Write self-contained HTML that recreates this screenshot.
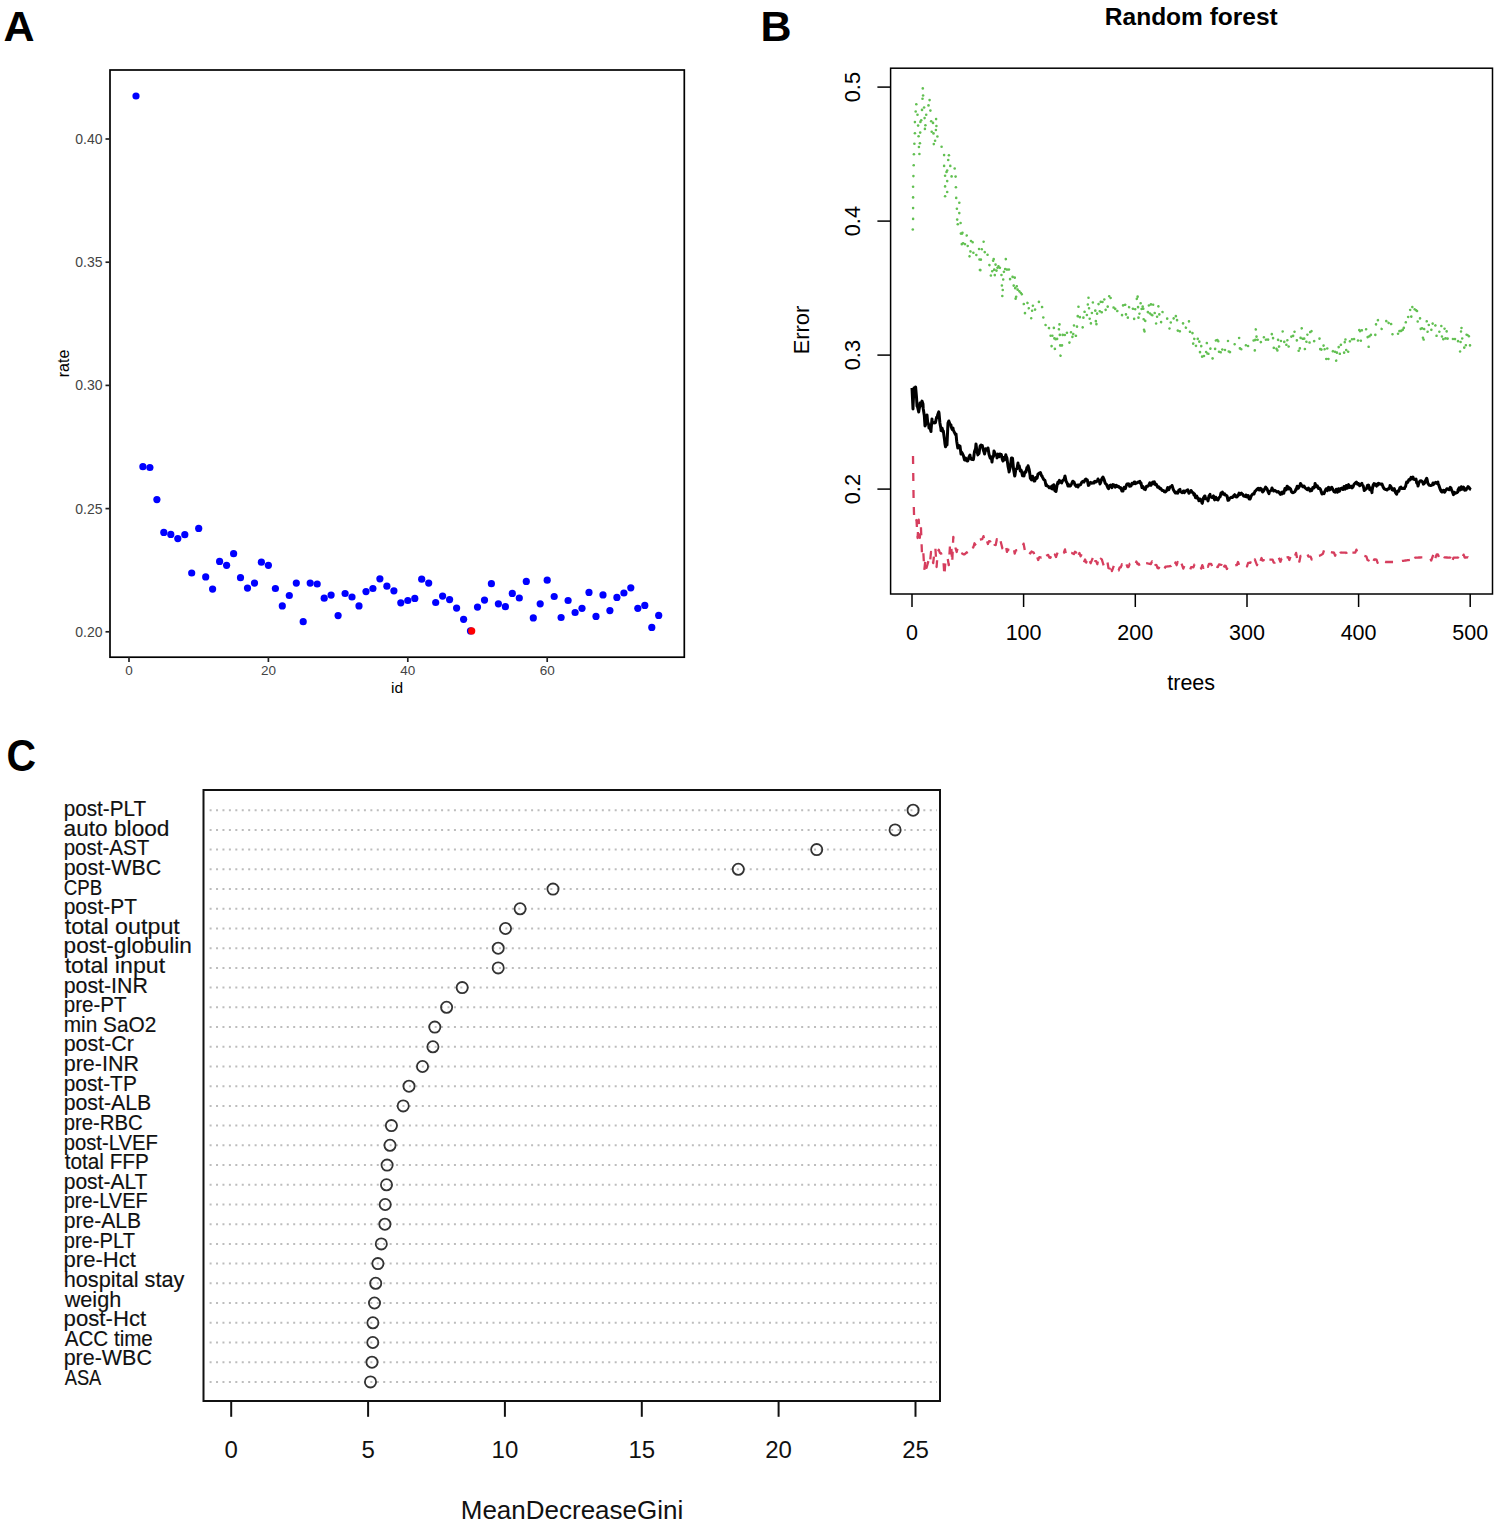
<!DOCTYPE html>
<html><head><meta charset="utf-8"><title>Figure</title>
<style>
html,body{margin:0;padding:0;background:#fff;}
body{width:1500px;height:1529px;overflow:hidden;}
svg{display:block;font-family:"Liberation Sans", sans-serif;}
</style></head>
<body>
<svg width="1500" height="1529" viewBox="0 0 1500 1529">
<rect x="0" y="0" width="1500" height="1529" fill="#fff"/>
<text x="3.4" y="41" font-size="43" font-weight="bold" fill="#000">A</text>
<rect x="110" y="70" width="574.3" height="587.2" fill="none" stroke="#000" stroke-width="1.7"/>
<line x1="105.5" y1="631.8" x2="110" y2="631.8" stroke="#222" stroke-width="1.7"/>
<text x="102.5" y="636.8" font-size="14" fill="#444" text-anchor="end">0.20</text>
<line x1="105.5" y1="508.6" x2="110" y2="508.6" stroke="#222" stroke-width="1.7"/>
<text x="102.5" y="513.6" font-size="14" fill="#444" text-anchor="end">0.25</text>
<line x1="105.5" y1="385.4" x2="110" y2="385.4" stroke="#222" stroke-width="1.7"/>
<text x="102.5" y="390.4" font-size="14" fill="#444" text-anchor="end">0.30</text>
<line x1="105.5" y1="262.2" x2="110" y2="262.2" stroke="#222" stroke-width="1.7"/>
<text x="102.5" y="267.2" font-size="14" fill="#444" text-anchor="end">0.35</text>
<line x1="105.5" y1="139" x2="110" y2="139" stroke="#222" stroke-width="1.7"/>
<text x="102.5" y="144" font-size="14" fill="#444" text-anchor="end">0.40</text>
<line x1="129" y1="657.2" x2="129" y2="662" stroke="#222" stroke-width="1.7"/>
<text x="129" y="675" font-size="13.5" fill="#444" text-anchor="middle">0</text>
<line x1="268.4" y1="657.2" x2="268.4" y2="662" stroke="#222" stroke-width="1.7"/>
<text x="268.4" y="675" font-size="13.5" fill="#444" text-anchor="middle">20</text>
<line x1="407.8" y1="657.2" x2="407.8" y2="662" stroke="#222" stroke-width="1.7"/>
<text x="407.8" y="675" font-size="13.5" fill="#444" text-anchor="middle">40</text>
<line x1="547.2" y1="657.2" x2="547.2" y2="662" stroke="#222" stroke-width="1.7"/>
<text x="547.2" y="675" font-size="13.5" fill="#444" text-anchor="middle">60</text>
<text x="397" y="693.4" font-size="15.5" fill="#000" text-anchor="middle">id</text>
<text transform="translate(69.3,363.5) rotate(-90)" font-size="16" fill="#000" text-anchor="middle">rate</text>
<circle cx="136" cy="96" r="3.6" fill="#0000ff"/>
<circle cx="142.9" cy="466.7" r="3.6" fill="#0000ff"/>
<circle cx="149.9" cy="467.5" r="3.6" fill="#0000ff"/>
<circle cx="156.9" cy="499.6" r="3.6" fill="#0000ff"/>
<circle cx="163.8" cy="532.4" r="3.6" fill="#0000ff"/>
<circle cx="170.8" cy="534.4" r="3.6" fill="#0000ff"/>
<circle cx="177.8" cy="538.6" r="3.6" fill="#0000ff"/>
<circle cx="184.8" cy="534.7" r="3.6" fill="#0000ff"/>
<circle cx="191.7" cy="573" r="3.6" fill="#0000ff"/>
<circle cx="198.7" cy="528.4" r="3.6" fill="#0000ff"/>
<circle cx="205.7" cy="576.9" r="3.6" fill="#0000ff"/>
<circle cx="212.6" cy="589.1" r="3.6" fill="#0000ff"/>
<circle cx="219.6" cy="561.4" r="3.6" fill="#0000ff"/>
<circle cx="226.6" cy="565.3" r="3.6" fill="#0000ff"/>
<circle cx="233.6" cy="553.7" r="3.6" fill="#0000ff"/>
<circle cx="240.5" cy="577.7" r="3.6" fill="#0000ff"/>
<circle cx="247.5" cy="588.1" r="3.6" fill="#0000ff"/>
<circle cx="254.5" cy="583.1" r="3.6" fill="#0000ff"/>
<circle cx="261.4" cy="562.2" r="3.6" fill="#0000ff"/>
<circle cx="268.4" cy="565.3" r="3.6" fill="#0000ff"/>
<circle cx="275.4" cy="588.5" r="3.6" fill="#0000ff"/>
<circle cx="282.3" cy="605.9" r="3.6" fill="#0000ff"/>
<circle cx="289.3" cy="595.5" r="3.6" fill="#0000ff"/>
<circle cx="296.3" cy="583.1" r="3.6" fill="#0000ff"/>
<circle cx="303.2" cy="621.7" r="3.6" fill="#0000ff"/>
<circle cx="310.2" cy="583.1" r="3.6" fill="#0000ff"/>
<circle cx="317.2" cy="584" r="3.6" fill="#0000ff"/>
<circle cx="324.2" cy="598.2" r="3.6" fill="#0000ff"/>
<circle cx="331.1" cy="595.1" r="3.6" fill="#0000ff"/>
<circle cx="338.1" cy="615.6" r="3.6" fill="#0000ff"/>
<circle cx="345.1" cy="593.5" r="3.6" fill="#0000ff"/>
<circle cx="352" cy="597" r="3.6" fill="#0000ff"/>
<circle cx="359" cy="605.9" r="3.6" fill="#0000ff"/>
<circle cx="366" cy="591.6" r="3.6" fill="#0000ff"/>
<circle cx="372.9" cy="588.5" r="3.6" fill="#0000ff"/>
<circle cx="379.9" cy="578.8" r="3.6" fill="#0000ff"/>
<circle cx="386.9" cy="586.2" r="3.6" fill="#0000ff"/>
<circle cx="393.9" cy="590.8" r="3.6" fill="#0000ff"/>
<circle cx="400.8" cy="602.8" r="3.6" fill="#0000ff"/>
<circle cx="407.8" cy="600.5" r="3.6" fill="#0000ff"/>
<circle cx="414.8" cy="598.4" r="3.6" fill="#0000ff"/>
<circle cx="421.7" cy="579.2" r="3.6" fill="#0000ff"/>
<circle cx="428.7" cy="583.1" r="3.6" fill="#0000ff"/>
<circle cx="435.7" cy="602.5" r="3.6" fill="#0000ff"/>
<circle cx="442.6" cy="596.1" r="3.6" fill="#0000ff"/>
<circle cx="449.6" cy="599.6" r="3.6" fill="#0000ff"/>
<circle cx="456.6" cy="608.1" r="3.6" fill="#0000ff"/>
<circle cx="463.6" cy="619.3" r="3.6" fill="#0000ff"/>
<circle cx="477.5" cy="607.1" r="3.6" fill="#0000ff"/>
<circle cx="484.5" cy="600.1" r="3.6" fill="#0000ff"/>
<circle cx="491.4" cy="583.7" r="3.6" fill="#0000ff"/>
<circle cx="498.4" cy="603.8" r="3.6" fill="#0000ff"/>
<circle cx="505.4" cy="606.7" r="3.6" fill="#0000ff"/>
<circle cx="512.3" cy="593.4" r="3.6" fill="#0000ff"/>
<circle cx="519.3" cy="598" r="3.6" fill="#0000ff"/>
<circle cx="526.3" cy="581.4" r="3.6" fill="#0000ff"/>
<circle cx="533.3" cy="617.9" r="3.6" fill="#0000ff"/>
<circle cx="540.2" cy="603.8" r="3.6" fill="#0000ff"/>
<circle cx="547.2" cy="580.2" r="3.6" fill="#0000ff"/>
<circle cx="554.2" cy="596.5" r="3.6" fill="#0000ff"/>
<circle cx="561.1" cy="617.5" r="3.6" fill="#0000ff"/>
<circle cx="568.1" cy="600.5" r="3.6" fill="#0000ff"/>
<circle cx="575.1" cy="612.5" r="3.6" fill="#0000ff"/>
<circle cx="582" cy="608.3" r="3.6" fill="#0000ff"/>
<circle cx="589" cy="592.4" r="3.6" fill="#0000ff"/>
<circle cx="596" cy="616.4" r="3.6" fill="#0000ff"/>
<circle cx="603" cy="594.9" r="3.6" fill="#0000ff"/>
<circle cx="609.9" cy="610.6" r="3.6" fill="#0000ff"/>
<circle cx="616.9" cy="597.4" r="3.6" fill="#0000ff"/>
<circle cx="623.9" cy="593" r="3.6" fill="#0000ff"/>
<circle cx="630.8" cy="587.8" r="3.6" fill="#0000ff"/>
<circle cx="637.8" cy="608.3" r="3.6" fill="#0000ff"/>
<circle cx="644.8" cy="605.4" r="3.6" fill="#0000ff"/>
<circle cx="651.8" cy="627.4" r="3.6" fill="#0000ff"/>
<circle cx="658.7" cy="615.4" r="3.6" fill="#0000ff"/>
<circle cx="470.5" cy="630.9" r="3.6" fill="#0000ff"/>
<circle cx="471.7" cy="630.9" r="3.6" fill="#ff0000"/>
<text x="760.6" y="41" font-size="43" font-weight="bold" fill="#000">B</text>
<text x="1191.3" y="24.7" font-size="24.5" font-weight="bold" fill="#000" text-anchor="middle">Random forest</text>
<rect x="890.6" y="68.2" width="601.9" height="525.8" fill="none" stroke="#000" stroke-width="1.5"/>
<line x1="877.4" y1="489.1" x2="890.6" y2="489.1" stroke="#000" stroke-width="1.5"/>
<text transform="translate(860,489.1) rotate(-90)" font-size="21.8" fill="#000" text-anchor="middle">0.2</text>
<line x1="877.4" y1="355.1" x2="890.6" y2="355.1" stroke="#000" stroke-width="1.5"/>
<text transform="translate(860,355.1) rotate(-90)" font-size="21.8" fill="#000" text-anchor="middle">0.3</text>
<line x1="877.4" y1="221.1" x2="890.6" y2="221.1" stroke="#000" stroke-width="1.5"/>
<text transform="translate(860,221.1) rotate(-90)" font-size="21.8" fill="#000" text-anchor="middle">0.4</text>
<line x1="877.4" y1="87.1" x2="890.6" y2="87.1" stroke="#000" stroke-width="1.5"/>
<text transform="translate(860,87.1) rotate(-90)" font-size="21.8" fill="#000" text-anchor="middle">0.5</text>
<line x1="912" y1="594" x2="912" y2="607" stroke="#000" stroke-width="1.5"/>
<text x="912" y="640" font-size="21.5" fill="#000" text-anchor="middle">0</text>
<line x1="1023.6" y1="594" x2="1023.6" y2="607" stroke="#000" stroke-width="1.5"/>
<text x="1023.6" y="640" font-size="21.5" fill="#000" text-anchor="middle">100</text>
<line x1="1135.3" y1="594" x2="1135.3" y2="607" stroke="#000" stroke-width="1.5"/>
<text x="1135.3" y="640" font-size="21.5" fill="#000" text-anchor="middle">200</text>
<line x1="1247" y1="594" x2="1247" y2="607" stroke="#000" stroke-width="1.5"/>
<text x="1247" y="640" font-size="21.5" fill="#000" text-anchor="middle">300</text>
<line x1="1358.6" y1="594" x2="1358.6" y2="607" stroke="#000" stroke-width="1.5"/>
<text x="1358.6" y="640" font-size="21.5" fill="#000" text-anchor="middle">400</text>
<line x1="1470.2" y1="594" x2="1470.2" y2="607" stroke="#000" stroke-width="1.5"/>
<text x="1470.2" y="640" font-size="21.5" fill="#000" text-anchor="middle">500</text>
<text x="1191.2" y="690.2" font-size="21.5" fill="#000" text-anchor="middle">trees</text>
<text transform="translate(808.8,330) rotate(-90)" font-size="21.8" fill="#000" text-anchor="middle">Error</text>
<circle cx="922.8" cy="88.4" r="1.3" fill="#62c052"/>
<circle cx="923.1" cy="95.5" r="1.3" fill="#62c052"/>
<circle cx="922.5" cy="98.8" r="1.3" fill="#62c052"/>
<circle cx="929.6" cy="100.1" r="1.3" fill="#62c052"/>
<circle cx="916.3" cy="104.2" r="1.3" fill="#62c052"/>
<circle cx="928.5" cy="105.4" r="1.3" fill="#62c052"/>
<circle cx="924.1" cy="107.5" r="1.3" fill="#62c052"/>
<circle cx="922" cy="109.9" r="1.3" fill="#62c052"/>
<circle cx="930.4" cy="110.6" r="1.3" fill="#62c052"/>
<circle cx="915.7" cy="111.5" r="1.3" fill="#62c052"/>
<circle cx="917.5" cy="114.8" r="1.3" fill="#62c052"/>
<circle cx="926.2" cy="114.8" r="1.3" fill="#62c052"/>
<circle cx="924.6" cy="118.1" r="1.3" fill="#62c052"/>
<circle cx="936.1" cy="119.1" r="1.3" fill="#62c052"/>
<circle cx="921.2" cy="120.3" r="1.3" fill="#62c052"/>
<circle cx="920.4" cy="121.9" r="1.3" fill="#62c052"/>
<circle cx="931.2" cy="121.3" r="1.3" fill="#62c052"/>
<circle cx="933" cy="122.9" r="1.3" fill="#62c052"/>
<circle cx="914.9" cy="122.1" r="1.3" fill="#62c052"/>
<circle cx="918.1" cy="125.6" r="1.3" fill="#62c052"/>
<circle cx="925.4" cy="125.3" r="1.3" fill="#62c052"/>
<circle cx="936.4" cy="126" r="1.3" fill="#62c052"/>
<circle cx="924.9" cy="128.9" r="1.3" fill="#62c052"/>
<circle cx="935.9" cy="130" r="1.3" fill="#62c052"/>
<circle cx="914.9" cy="133.3" r="1.3" fill="#62c052"/>
<circle cx="920.2" cy="132.6" r="1.3" fill="#62c052"/>
<circle cx="931.7" cy="131.8" r="1.3" fill="#62c052"/>
<circle cx="933.5" cy="133.4" r="1.3" fill="#62c052"/>
<circle cx="937.4" cy="136.5" r="1.3" fill="#62c052"/>
<circle cx="918.6" cy="136.3" r="1.3" fill="#62c052"/>
<circle cx="935.1" cy="140.7" r="1.3" fill="#62c052"/>
<circle cx="914.4" cy="143.8" r="1.3" fill="#62c052"/>
<circle cx="919.9" cy="143.3" r="1.3" fill="#62c052"/>
<circle cx="933.8" cy="144.1" r="1.3" fill="#62c052"/>
<circle cx="918.9" cy="147" r="1.3" fill="#62c052"/>
<circle cx="941.6" cy="146.7" r="1.3" fill="#62c052"/>
<circle cx="913.9" cy="154.3" r="1.3" fill="#62c052"/>
<circle cx="919.4" cy="154" r="1.3" fill="#62c052"/>
<circle cx="944.1" cy="155.1" r="1.3" fill="#62c052"/>
<circle cx="948.9" cy="155.2" r="1.3" fill="#62c052"/>
<circle cx="948.2" cy="160" r="1.3" fill="#62c052"/>
<circle cx="913.7" cy="165.2" r="1.3" fill="#62c052"/>
<circle cx="944.1" cy="165.9" r="1.3" fill="#62c052"/>
<circle cx="950.3" cy="165.9" r="1.3" fill="#62c052"/>
<circle cx="954.7" cy="168.5" r="1.3" fill="#62c052"/>
<circle cx="947.2" cy="170.5" r="1.3" fill="#62c052"/>
<circle cx="946.5" cy="172" r="1.3" fill="#62c052"/>
<circle cx="945.1" cy="175.8" r="1.3" fill="#62c052"/>
<circle cx="913.4" cy="176.1" r="1.3" fill="#62c052"/>
<circle cx="951.6" cy="176.4" r="1.3" fill="#62c052"/>
<circle cx="955.6" cy="176.6" r="1.3" fill="#62c052"/>
<circle cx="947.2" cy="181.1" r="1.3" fill="#62c052"/>
<circle cx="913.1" cy="186.7" r="1.3" fill="#62c052"/>
<circle cx="945.1" cy="186.4" r="1.3" fill="#62c052"/>
<circle cx="955.9" cy="187.2" r="1.3" fill="#62c052"/>
<circle cx="947.2" cy="192" r="1.3" fill="#62c052"/>
<circle cx="913.1" cy="197.4" r="1.3" fill="#62c052"/>
<circle cx="945.1" cy="196.3" r="1.3" fill="#62c052"/>
<circle cx="956.2" cy="197.9" r="1.3" fill="#62c052"/>
<circle cx="959.3" cy="202.8" r="1.3" fill="#62c052"/>
<circle cx="913.1" cy="208.1" r="1.3" fill="#62c052"/>
<circle cx="956.9" cy="208.7" r="1.3" fill="#62c052"/>
<circle cx="959.3" cy="213.1" r="1.3" fill="#62c052"/>
<circle cx="913.1" cy="218.9" r="1.3" fill="#62c052"/>
<circle cx="957.2" cy="219.6" r="1.3" fill="#62c052"/>
<circle cx="957.8" cy="224.3" r="1.3" fill="#62c052"/>
<circle cx="960.6" cy="223" r="1.3" fill="#62c052"/>
<circle cx="912.8" cy="229.5" r="1.3" fill="#62c052"/>
<circle cx="960.9" cy="233.6" r="1.3" fill="#62c052"/>
<polyline points="961.8,244.1 962.2,227.9 963.4,246.9 964.5,248.8 965.6,239 966.7,234.7 967.8,246.9 968.9,253.6 970.1,259.1 971.2,237 972.3,236.8 973.4,253.2 974.5,253.1 975.6,258.4 976.8,252.7 977.9,247 979,248.1 980.1,275.3 981.2,252.7 982.3,246.5 983.5,240.3 984.6,251.9 985.7,253.7 986.8,250 987.9,257.3 989,261.7 990.2,271.3 991.3,278.6 992.4,269.4 993.5,254.7 994.6,277.6 995.7,262.4 996.9,274.4 998,261.8 999.1,272.3 1000.2,266.2 1001.3,271.1 1002.4,298.2 1003.6,270.4 1004.7,275.6 1005.8,258.8 1006.9,269.5 1008,274.7 1009.1,269.1 1010.3,281.3 1011.4,282 1012.5,276 1013.6,286.5 1014.7,276.4 1015.8,302.9 1017,282.7 1018.1,294.8 1019.2,290.5 1020.3,297.4 1021.4,288.4 1022.5,301.3 1023.6,301.8 1024.8,313.8 1025.9,309.4 1027,304.9 1028.1,300.4 1029.2,312.3 1030.3,313.3 1031.5,319.7 1032.6,303 1033.7,312.7 1034.8,311.3 1035.9,305.1 1037,305.2 1038.2,305.4 1039.3,300 1040.4,300.3 1041.5,300.8 1042.6,312.3 1043.7,319.9 1044.9,318.7 1046,328.9 1047.1,330.4 1048.2,331.3 1049.3,326.7 1050.4,333.1 1051.6,346.2 1052.7,331.4 1053.8,326.6 1054.9,349.2 1056,333.8 1057.1,338.9 1058.3,338.5 1059.4,321.6 1060.5,355.8 1061.6,351.5 1062.7,334.7 1063.8,339.9 1065,334.3 1066.1,328.7 1067.2,334 1068.3,339.4 1069.4,342.8 1070.5,334.6 1071.7,329.4 1072.8,340.7 1073.9,324.5 1075,333.3 1076.1,336.4 1077.2,324.1 1078.4,306.2 1079.5,315.8 1080.6,319.9 1081.7,323.8 1082.8,327.7 1083.9,309.5 1085.1,313.4 1086.2,318.5 1087.3,312.7 1088.4,295.9 1089.5,316.9 1090.6,326.3 1091.8,313.7 1092.9,302.1 1094,301.8 1095.1,306.9 1096.2,327.9 1097.3,310.5 1098.5,303.7 1099.6,312.9 1100.7,301.3 1101.8,312.4 1102.9,296 1104,296.1 1105.2,307.6 1106.3,313.4 1107.4,308.1 1108.5,302.8 1109.6,291.9 1110.7,298.3 1111.9,299.5 1113,300.8 1114.1,313 1115.2,308.5 1116.3,315.1 1117.4,310.7 1118.6,311.1 1119.7,311 1120.8,310.9 1121.9,316.3 1123,305 1124.1,310.2 1125.3,304.3 1126.4,320.6 1127.5,320.7 1128.6,309.8 1129.7,304.1 1130.8,303.8 1132,309 1133.1,308.7 1134.2,319.3 1135.3,308 1136.4,302.6 1137.5,292.5 1138.6,320.9 1139.8,310.8 1140.9,300.9 1142,313 1143.1,302.4 1144.2,335.8 1145.3,319.7 1146.5,320.1 1147.6,314.7 1148.7,303.6 1149.8,314.7 1150.9,303.7 1152,320.3 1153.2,303.7 1154.3,309 1155.4,319.9 1156.5,325.3 1157.6,309.4 1158.7,305.1 1159.9,322.8 1161,323 1162.1,312 1163.2,312.1 1164.3,312.1 1165.4,312.2 1166.6,312.3 1167.7,323.7 1168.8,324.4 1169.9,330.7 1171,320.4 1172.1,321.1 1173.3,316.3 1174.4,322.4 1175.5,317.6 1176.6,312.9 1177.7,330.3 1178.8,336.1 1180,330.7 1181.1,331.6 1182.2,327 1183.3,322.3 1184.4,328.7 1185.5,329.3 1186.7,324.5 1187.8,319.7 1188.9,320.3 1190,332 1191.1,333.2 1192.2,328.9 1193.4,346.5 1194.5,337.2 1195.6,345.1 1196.7,347.5 1197.8,338.6 1198.9,335.1 1200.1,353.6 1201.2,345.4 1202.3,358.5 1203.4,353 1204.5,358.6 1205.6,358.7 1206.8,342.3 1207.9,358.9 1209,346.3 1210.1,346.9 1211.2,353 1212.3,358.6 1213.5,357.7 1214.6,356.8 1215.7,339.4 1216.8,345.4 1217.9,335.4 1219,351.9 1220.2,357.2 1221.3,345.7 1222.4,349.8 1223.5,349.1 1224.6,353.9 1225.7,342.3 1226.9,341.6 1228,340.9 1229.1,357 1230.2,351 1231.3,345.2 1232.4,344.9 1233.6,344.5 1234.7,344.2 1235.8,343.9 1236.9,343.3 1238,337.1 1239.1,337.3 1240.3,354 1241.4,348.6 1242.5,343.3 1243.6,343.9 1244.7,344.8 1245.8,345.7 1247,340.5 1248.1,346.3 1249.2,346.6 1250.3,341.2 1251.4,340.8 1252.5,340.6 1253.6,340.4 1254.8,350.7 1255.9,327.8 1257,343.4 1258.1,337 1259.2,336 1260.3,340.1 1261.5,344.2 1262.6,338.1 1263.7,338.2 1264.8,333.3 1265.9,339.6 1267,344.8 1268.2,339 1269.3,333.5 1270.4,334.5 1271.5,335.4 1272.6,330.9 1273.7,348.2 1274.9,343.4 1276,344.2 1277.1,354.8 1278.2,338 1279.3,348.6 1280.4,348.3 1281.6,331.6 1282.7,331.5 1283.8,337 1284.9,347.9 1286,348.1 1287.1,337.3 1288.3,348.6 1289.4,342.8 1290.5,341.8 1291.6,335.3 1292.7,340.1 1293.8,328.6 1295,333.6 1296.1,333.1 1297.2,343.6 1298.3,348.9 1299.4,354.8 1300.5,338.6 1301.7,327.9 1302.8,339.2 1303.9,333.9 1305,350.6 1306.1,344.6 1307.2,333 1308.4,343.5 1309.5,343 1310.6,326.4 1311.7,332.4 1312.8,339.2 1313.9,340.9 1315.1,341.7 1316.2,342.5 1317.3,343.3 1318.4,338.3 1319.5,338.2 1320.6,354.6 1321.8,347.7 1322.9,350.8 1324,342.2 1325.1,353.5 1326.2,359.3 1327.3,348.5 1328.5,359.4 1329.6,353.3 1330.7,352.6 1331.8,351.9 1332.9,351.2 1334,356.6 1335.2,351 1336.3,361.9 1337.4,345.3 1338.5,345.1 1339.6,355.7 1340.7,344.1 1341.9,348.9 1343,353.6 1344.1,352.8 1345.2,335.6 1346.3,351.3 1347.4,356 1348.6,349.4 1349.7,342.6 1350.8,335.8 1351.9,339.9 1353,334 1354.1,339.3 1355.3,339 1356.4,338.6 1357.5,343.4 1358.6,337.2 1359.7,325.4 1360.8,341.2 1361.9,329.5 1363.1,333 1364.2,333 1365.3,333 1366.4,328 1367.5,334.8 1368.6,347.2 1369.8,330.4 1370.9,335 1372,339.5 1373.1,337.4 1374.2,336.1 1375.3,334.9 1376.5,317.2 1377.6,319.2 1378.7,322.8 1379.8,328.6 1380.9,328.8 1382,329 1383.2,322.3 1384.3,321.9 1385.4,321.4 1386.5,321 1387.6,327 1388.7,322.7 1389.9,318.4 1391,322.4 1392.1,334.1 1393.2,334.4 1394.3,334.7 1395.4,335 1396.6,335.9 1397.7,331.9 1398.8,337.6 1399.9,326.2 1401,331.3 1402.1,325.2 1403.3,334.1 1404.4,320.9 1405.5,323.2 1406.6,319.6 1407.7,322 1408.8,309.5 1410,308.5 1411.1,318.5 1412.2,306.6 1413.3,312 1414.4,308 1415.5,315 1416.7,305.4 1417.8,323.2 1418.9,316.7 1420,317.7 1421.1,333.8 1422.2,327.8 1423.4,343.9 1424.5,321.5 1425.6,321.1 1426.7,320.7 1427.8,333.6 1428.9,323.8 1430.1,324.6 1431.2,331.1 1432.3,321.5 1433.4,328.4 1434.5,324.3 1435.6,325.7 1436.8,338 1437.9,338.6 1439,333.4 1440.1,328.2 1441.2,323.7 1442.3,343 1443.5,338.4 1444.6,328.3 1445.7,340.1 1446.8,329.8 1447.9,341.5 1449,342.1 1450.2,342.5 1451.3,342.1 1452.4,341.7 1453.5,335.9 1454.6,341.1 1455.7,335.5 1456.9,341 1458,341 1459.1,346.5 1460.2,352 1461.3,324.5 1462.4,340.9 1463.6,340.8 1464.7,351.6 1465.8,345.9 1466.9,329.6 1468,340.8 1469.1,335.6 1470.2,347" fill="none" stroke="#62c052" stroke-width="2.6" stroke-dasharray="0.01 10.5" stroke-linecap="round"/>
<polyline points="913,456 913.6,500 914.2,520 915.3,517.8 916.5,520.4 917.6,538 918.7,519.6 919.8,537.9 920.9,526.5 922,554 923.2,550.1 924.3,570.1 925.4,560 926.5,567.9 927.6,564 928.7,560 929.9,563.5 931,552 932.1,557.7 933.2,563 934.3,553.2 935.4,548.3 936.6,567 937.7,552.5 938.8,549.7 939.9,553 941,553.1 942.1,556.4 943.3,558.8 944.4,575.8 945.5,559.8 946.6,557 947.7,558.7 948.8,565.2 950,545.2 951.1,543.3 952.2,562.8 953.3,536.8 954.4,543.8 955.5,547.9 956.7,552 957.8,547.1 958.9,548.2 960,552.3 961.1,553 962.2,553.6 963.4,554.3 964.5,554.3 965.6,553.3 966.7,552.3 967.8,554.4 968.9,553.4 970.1,549.6 971.2,548.8 972.3,548 973.4,547.2 974.5,543.3 975.6,545 976.8,546.2 977.9,541.5 979,539.7 980.1,539.5 981.2,539.4 982.3,539.2 983.5,536.1 984.6,542.3 985.7,539.8 986.8,540.4 987.9,544 989,541.2 990.2,541.4 991.3,544.5 992.4,544.7 993.5,541.8 994.6,544.9 995.7,545 996.9,539.1 998,542.2 999.1,542.3 1000.2,539.6 1001.3,544 1002.4,548.4 1003.6,549.8 1004.7,547.7 1005.8,545.3 1006.9,551.9 1008,549.5 1009.1,550 1010.3,550.2 1011.4,547.3 1012.5,547.5 1013.6,547.6 1014.7,553.5 1015.8,550.4 1017,550.2 1018.1,550 1019.2,549.8 1020.3,549.7 1021.4,549.7 1022.5,546.7 1023.6,543.7 1024.8,550.1 1025.9,550.7 1027,554.3 1028.1,551.9 1029.2,552.5 1030.3,553.5 1031.5,551.5 1032.6,552.2 1033.7,552.6 1034.8,555.9 1035.9,559.3 1037,556.7 1038.2,560 1039.3,557.2 1040.4,557.4 1041.5,557.6 1042.6,557.4 1043.7,553.9 1044.9,553.3 1046,552.8 1047.1,555.3 1048.2,554.9 1049.3,557.7 1050.4,557.8 1051.6,554.8 1052.7,557.9 1053.8,558 1054.9,554.5 1056,557 1057.1,553.9 1058.3,550.9 1059.4,553.8 1060.5,553.8 1061.6,553.7 1062.7,553.4 1063.8,552.9 1065,549.4 1066.1,555 1067.2,555.2 1068.3,552.4 1069.4,552.6 1070.5,552.8 1071.7,552.9 1072.8,553.5 1073.9,554.1 1075,551.8 1076.1,552.4 1077.2,558.6 1078.4,555.8 1079.5,553 1080.6,556.3 1081.7,554 1082.8,555.2 1083.9,562.3 1085.1,559.5 1086.2,562.6 1087.3,559.7 1088.4,556.8 1089.5,559.9 1090.6,563.2 1091.8,560.4 1092.9,557.7 1094,564 1095.1,561.1 1096.2,561.1 1097.3,564.2 1098.5,558.2 1099.6,561.3 1100.7,558.7 1101.8,559.4 1102.9,563 1104,566.7 1105.2,564.1 1106.3,561.4 1107.4,561.8 1108.5,568.2 1109.6,568.5 1110.7,563.6 1111.9,571.1 1113,568.2 1114.1,565.1 1115.2,567.9 1116.3,570.8 1117.4,570.7 1118.6,570.5 1119.7,567.4 1120.8,567.3 1121.9,564.3 1123,567.3 1124.1,567.3 1125.3,567.2 1126.4,564.1 1127.5,567.1 1128.6,567 1129.7,563.8 1130.8,563.4 1132,563 1133.1,562.6 1134.2,565.3 1135.3,564.9 1136.4,561.5 1137.5,564.1 1138.6,563.6 1139.8,566.1 1140.9,563 1142,563 1143.1,563 1144.2,563 1145.3,563 1146.5,563.1 1147.6,563.4 1148.7,563.6 1149.8,563.9 1150.9,564.2 1152,561.4 1153.2,564.7 1154.3,561.8 1155.4,564.9 1156.5,565.1 1157.6,568.2 1158.7,568.3 1159.9,565.5 1161,565.7 1162.1,568.9 1163.2,569.1 1164.3,569.3 1165.4,566.6 1166.6,566.6 1167.7,566.4 1168.8,566.3 1169.9,566.1 1171,566 1172.1,562.8 1173.3,562.7 1174.4,565.5 1175.5,562.4 1176.6,565.2 1177.7,562 1178.8,565.1 1180,565.2 1181.1,562.3 1182.2,565.5 1183.3,568.6 1184.4,565.8 1185.5,566.1 1186.7,566.4 1187.8,566.7 1188.9,567 1190,570.1 1191.1,567.1 1192.2,567.2 1193.4,567.3 1194.5,564.3 1195.6,564.1 1196.7,566.9 1197.8,566.7 1198.9,566.4 1200.1,566 1201.2,568.6 1202.3,565.2 1203.4,567.9 1204.5,564.3 1205.6,564 1206.8,563.9 1207.9,566.9 1209,563.9 1210.1,563.8 1211.2,563.8 1212.3,566.8 1213.5,563.7 1214.6,563.7 1215.7,566.7 1216.8,566.9 1217.9,567.1 1219,564.4 1220.2,564.7 1221.3,564.9 1222.4,562.2 1223.5,568.4 1224.6,565.7 1225.7,565.9 1226.9,569 1228,565.9 1229.1,565.8 1230.2,565.8 1231.3,565.7 1232.4,565.6 1233.6,565.5 1234.7,565.4 1235.8,565.2 1236.9,565.1 1238,562 1239.1,564.9 1240.3,564.9 1241.4,564.8 1242.5,564.8 1243.6,564.7 1244.7,564.4 1245.8,563.9 1247,566.4 1248.1,563 1249.2,562.9 1250.3,562.8 1251.4,559.7 1252.5,562.6 1253.6,562.5 1254.8,559.4 1255.9,562.3 1257,565.2 1258.1,562.1 1259.2,564.9 1260.3,561.5 1261.5,558 1262.6,560.6 1263.7,560.1 1264.8,557 1265.9,556.9 1267,559.8 1268.2,559.8 1269.3,559.7 1270.4,559.7 1271.5,559.7 1272.6,559.7 1273.7,562.7 1274.9,562.7 1276,559.7 1277.1,559.4 1278.2,556.2 1279.3,559 1280.4,561.8 1281.6,558.6 1282.7,558.3 1283.8,555.1 1284.9,557.9 1286,557.7 1287.1,557.4 1288.3,557.2 1289.4,560 1290.5,556.7 1291.6,556.5 1292.7,556.3 1293.8,559 1295,555.9 1296.1,552.9 1297.2,558.8 1298.3,555.7 1299.4,561.7 1300.5,555.9 1301.7,556 1302.8,556.2 1303.9,556.3 1305,556.4 1306.1,553.5 1307.2,553.5 1308.4,556.6 1309.5,556.6 1310.6,556.6 1311.7,559.5 1312.8,556.4 1313.9,556.3 1315.1,556.2 1316.2,556 1317.3,555.9 1318.4,555.8 1319.5,555.7 1320.6,555.2 1321.8,554.5 1322.9,553.8 1324,550.4 1325.1,553.2 1326.2,552.9 1327.3,552.6 1328.5,552.4 1329.6,552.1 1330.7,552.1 1331.8,552.3 1332.9,552.5 1334,552.7 1335.2,555.7 1336.3,552.7 1337.4,552.7 1338.5,552.7 1339.6,549.7 1340.7,552.7 1341.9,552.7 1343,552.7 1344.1,552.7 1345.2,552.7 1346.3,552.7 1347.4,555.7 1348.6,552.7 1349.7,552.7 1350.8,552.7 1351.9,552.7 1353,552.7 1354.1,552.7 1355.3,552.7 1356.4,549.7 1357.5,552.7 1358.6,553.3 1359.7,554.4 1360.8,554.9 1361.9,555.2 1363.1,555.5 1364.2,555.8 1365.3,556.1 1366.4,556.5 1367.5,560 1368.6,560.5 1369.8,558 1370.9,558.5 1372,559 1373.1,562.2 1374.2,559.3 1375.3,559.5 1376.5,559.7 1377.6,562.8 1378.7,560 1379.8,560.2 1380.9,560.3 1382,560.8 1383.2,561.2 1384.3,561.7 1385.4,562 1386.5,562 1387.6,562 1388.7,562 1389.9,562 1391,562 1392.1,562 1393.2,562 1394.3,562 1395.4,562 1396.6,561.9 1397.7,561.6 1398.8,561.4 1399.9,561.2 1401,561.1 1402.1,560.9 1403.3,560.8 1404.4,560.6 1405.5,560.5 1406.6,560.4 1407.7,560.2 1408.8,560.1 1410,559.9 1411.1,556.8 1412.2,559.5 1413.3,558.8 1414.4,558 1415.5,557.6 1416.7,557.6 1417.8,557.6 1418.9,557.5 1420,557.5 1421.1,557.4 1422.2,557.4 1423.4,557.4 1424.5,557.4 1425.6,557.5 1426.7,557.6 1427.8,557.7 1428.9,557.6 1430.1,557.6 1431.2,560.5 1432.3,557.5 1433.4,554.4 1434.5,560.4 1435.6,557.3 1436.8,554.3 1437.9,554.3 1439,557.3 1440.1,557.2 1441.2,557.1 1442.3,557 1443.5,560.2 1444.6,557.3 1445.7,557.4 1446.8,557.5 1447.9,557.7 1449,557.7 1450.2,557.7 1451.3,554.7 1452.4,560.7 1453.5,557.7 1454.6,557.7 1455.7,557.7 1456.9,557.7 1458,557.7 1459.1,554.7 1460.2,557.7 1461.3,557.7 1462.4,557.6 1463.6,554.6 1464.7,557.5 1465.8,557.5 1466.9,557.4 1468,557.3 1469.1,560.2 1470.2,557" fill="none" stroke="#d63e5e" stroke-width="2.3" stroke-dasharray="8 9" stroke-linejoin="round"/>
<polyline points="912,388 913,409 913.1,405 914,388 914.2,390.5 915.3,389.8 915.6,387 916.5,397.2 917,406 917.6,407.2 918.7,412 919,410 919.8,405.9 920,403 920.9,405.9 922,401.1 923,404 923.2,408.4 924.3,415.5 925,426 925.4,425.4 926.5,417.7 927,415 927.6,421.7 928.7,424.8 929,428 929.9,427.3 931,431.5 931,430 932,419 932.1,421.7 933.2,422.8 934.3,422.9 935,422 935.4,422.7 936.6,417.3 937,418 937.7,414.7 938.8,411.9 939,413 939.9,422.9 941,429 941,430.6 942.1,428.1 943,432 943.3,431 944.4,438.7 945,444 945.5,446.8 946.6,442.2 947,445 947.7,429 948,423 948.8,421 950,424.3 951,425 951.1,426.7 952.2,429.4 953,428 953.3,430.2 954.4,432.4 955.5,434.6 956,434 956.7,441.2 957.8,448 958,448 958.9,445.5 960,446 960,446.1 961,454 961.1,451.6 962.2,453.1 963.4,455.6 964,458 964.5,460 965.6,458 966.7,460.7 967,461 967.8,460.9 968.9,457.1 970,455 970.1,456.6 971.2,459.2 972.3,459.6 973,459 973.4,459.6 974.5,451.4 975.6,448.4 976,444 976.8,450.4 977.9,454.9 978,454 979,453.6 980.1,446.1 981,445 981.2,445.5 982.3,445.5 983.5,450.7 984,452 984.6,454 985.7,448.8 986.8,449.2 987.9,450.7 988,448 989,454.2 990.2,458.1 991.3,456.9 992,462 992.4,458.3 993.5,456.3 994,451 994.6,452.4 995.7,455.1 996.9,455.1 997,458 998,454.1 999.1,456.8 1000,454 1000.2,456 1001.3,454.5 1002.4,459.7 1003,461 1003.6,457.5 1004.7,459.8 1005.8,454.8 1006,456 1006.9,457.9 1008,466.1 1009,471 1009.1,472 1010.3,467.1 1011.4,458.1 1012,458 1012.5,458.1 1013.6,469.7 1014.7,476 1015,475 1015.8,469.1 1017,468.8 1018,463 1018.1,465.8 1019.2,465.8 1020.3,471 1021,470 1021.4,470.8 1022.5,475.7 1023.6,473.7 1024,476 1024.8,471.9 1025.9,472.2 1027,467.4 1028,468 1028.1,465.8 1029.2,469.7 1030,475 1030.3,478.1 1031.5,479.8 1032.6,476.3 1033.7,479 1034,481 1034.8,481.1 1035.9,477.6 1037,478.3 1038,474 1038.2,474.1 1039.3,473.1 1040.4,472.6 1041.5,475.8 1042,476 1042.6,477.3 1043.7,479.5 1044.9,480.2 1046,485.5 1046,484 1047.1,485.9 1048.2,486.3 1049.3,487.7 1050.4,487 1051.6,488.5 1052,486 1052.7,489.1 1053.8,484.7 1054.9,490.8 1056,489 1056,491.5 1057.1,485 1058,482 1058.3,483.6 1059.4,480.4 1060.5,482 1061.6,483 1062,482 1062.7,480.5 1063.8,479.9 1065,476.1 1065,476 1066.1,481.2 1067.2,483.3 1068,486 1068.3,484.2 1069.4,486 1070.5,485.9 1071.7,483.6 1072.8,481.2 1073.9,483 1074,482 1075,484.9 1076.1,486.3 1077.2,485.1 1078,487 1078.4,485 1079.5,485.2 1080.6,484.7 1081.7,482.4 1082,482 1082.8,481.4 1083.9,482.1 1085.1,479.7 1086,479 1086.2,480.3 1087.3,480 1088.4,485.4 1089,485 1089.5,483.1 1090.6,482.4 1091.8,483.3 1092.9,482.7 1094,483 1094,482 1095.1,481.2 1096.2,481.9 1097.3,481.1 1098,479 1098.5,480.1 1099.6,482 1100,484 1100.7,482.4 1101.8,478.8 1102.9,477.2 1103,477 1104,479.3 1105.2,483.3 1106.3,484.2 1107.4,486.7 1108,488 1108.5,488.7 1109.6,485.6 1110.7,485 1111.9,487.7 1113,484.6 1114,485 1114.1,485 1115.2,487.2 1116.3,485.2 1117.4,486.7 1118.6,486.3 1119.7,487.8 1120,488 1120.8,487.8 1121.9,490.9 1123,491 1123,489.4 1124.1,487.4 1125.3,488.7 1126.4,485.1 1127,484 1127.5,484.2 1128.6,483.8 1129.7,486.3 1130.8,485 1131,486 1132,483.4 1133.1,483.9 1134.2,481.9 1135,482 1135.3,483.7 1136.4,483.2 1137.5,482.5 1138.6,481.8 1139.8,481.4 1140,483 1140.9,482.7 1142,487.6 1143.1,486.7 1144,489 1144.2,488.8 1145.3,489.6 1146.5,486.2 1147.6,486.3 1148,486 1148.7,485.4 1149.8,482.9 1150.9,485.3 1152,482.8 1153,482 1153.2,483.7 1154.3,481.9 1155.4,484.6 1156,484 1156.5,484.5 1157.6,487.2 1158.7,486.7 1159.9,488.8 1160,488 1161,488.7 1162.1,490.5 1163.2,490.4 1164,491 1164.3,491.8 1165.4,491.9 1166.6,490.7 1167.7,487.6 1168.8,489.6 1169.9,487.1 1171,486.5 1172,487 1172.1,485.6 1173.3,489.5 1174.4,491.6 1175.5,493 1176,492 1176.6,492.8 1177.7,493.2 1178.8,490.3 1180,489.4 1180,491 1181.1,492 1182.2,492.6 1183.3,491 1184,491 1184.4,492.7 1185.5,491.2 1186.7,490.4 1187.8,489.9 1188.9,493.3 1190,491.9 1191,492 1191.1,490.5 1192.2,492.3 1193.4,492.8 1194,495 1194.5,493.8 1195.6,497.8 1196.7,496.1 1197.8,498.8 1198,498 1198.9,500.8 1200.1,499 1201.2,500.4 1202,503 1202.3,503.3 1203.4,498.1 1204.5,496.2 1205,496 1205.6,498.7 1206.8,498.9 1207.9,499.8 1208,501 1209,496.1 1210,494.4 1210.1,496.1 1211.2,497.1 1212.3,497.5 1213.5,495.9 1214,498 1214.6,499.9 1215.7,497.2 1216.8,499.4 1217.9,499 1218,500 1219,497.6 1220.2,496.6 1221,493 1221.3,494.1 1222.4,492.1 1223.5,494.3 1224.6,493.8 1225,495 1225.7,495 1226.9,495.7 1228,500.3 1229,500 1229.1,498.3 1230.2,498.1 1231.3,497.3 1232.4,497.4 1233,497 1233.6,495.8 1234.7,494.7 1235.8,496.8 1236.9,497 1238,495 1238,496 1239.1,493.1 1240.3,494.4 1241.4,493.2 1242,494 1242.5,494.1 1243.6,496 1244.7,496.3 1245.8,496.6 1246,495 1247,496.9 1248.1,495.5 1249.2,499.1 1250,499 1250.3,498.6 1251.4,495.6 1252.5,494.2 1253.6,493.5 1254,494 1254.8,491.6 1255.9,490.5 1257,489.4 1258.1,488.3 1259,489 1259.2,490.1 1260.3,488.3 1261.5,489 1262,491 1262.6,492 1263.7,490.7 1264.8,488.8 1265.6,487 1265.9,487.6 1267,488.8 1268.2,492 1269,493.6 1269.3,491.5 1270.4,491 1271.5,489.9 1272,488 1272.6,489.5 1273.7,491 1274.9,490.3 1276,491.2 1277,492 1277.1,492 1278.2,491.5 1279.3,492.9 1280.4,494.3 1281.6,492.2 1282,494 1282.7,492.1 1283.8,493.2 1284.9,488.5 1285,490 1286,489.9 1287.1,486.3 1288,487 1288.3,489 1289.4,487.9 1290.5,488.8 1291.6,491.9 1292,492.4 1292.7,492.7 1293.8,492.4 1295,491.5 1296,489 1296.1,489.9 1297.2,486.2 1298.3,488.3 1299.4,486.5 1300,485 1300.5,483.5 1301.7,485.4 1302.8,486.7 1303.9,486 1304,486 1305,487.8 1306.1,488.7 1307.2,489.7 1308.4,488 1309.5,489.6 1310,491 1310.6,489.3 1311.7,490.6 1312.8,487.6 1313.9,487.9 1315,485 1315.1,483.4 1316.2,486.8 1317.3,485.8 1318.4,488.5 1319,488 1319.5,488.1 1320.6,489.7 1321.8,493.5 1322,494 1322.9,493.1 1324,493.6 1325,491 1325.1,490.9 1326.2,488.7 1327.3,490.6 1328.5,487.3 1329.6,489.9 1330,488 1330.7,489.3 1331.8,487.3 1332.9,489.5 1334,491.6 1335.2,492.2 1336,491 1336.3,489.3 1337.4,492.3 1338.5,488.8 1339.6,491.1 1340,490 1340.7,488.7 1341.9,488.1 1343,489.5 1344,488 1344.1,486.4 1345.2,489.1 1346.3,485.5 1347.4,488.2 1348.6,484.6 1349,486 1349.7,487.4 1350.8,486.2 1351.9,486.3 1352,488 1353,487 1354.1,484.3 1355.3,483.1 1356.4,482 1357,483 1357.5,484.2 1358.6,483.6 1359.7,485.7 1360.8,484.5 1361.9,483.4 1362,485 1363.1,485.5 1364,489 1364.2,490.5 1365.3,489.6 1366.4,488.8 1367.5,485.4 1368,486 1368.6,485.2 1369.8,489.8 1370.9,488 1372,492.6 1372,491 1373.1,485.3 1374,483.6 1374.2,485.3 1375.3,484.1 1376.5,486.1 1377.6,483.9 1378,485 1378.7,483.4 1379.8,484 1380.9,484 1382,485 1382,484.1 1383.2,487.1 1384.3,488.9 1385.4,489.4 1386.5,489.5 1387,490 1387.6,489.1 1388.7,489 1389.9,486.8 1390,485.6 1391,486.7 1392.1,489.6 1393,489 1393.2,490.2 1394.3,488.7 1395.4,492.4 1396.6,494.2 1397,493 1397.7,491 1398.8,491.3 1399.9,487.7 1401,487 1401,488 1402.1,488.6 1403.3,488.6 1404.4,488.6 1405,487 1405.5,486.7 1406.6,482 1407,482 1407.7,482.5 1408.8,479.8 1410,479.1 1410,480 1411.1,477.3 1412.2,478.8 1413,477 1413.3,478.2 1414.4,479.6 1415.5,479.7 1416,479 1416.7,482.9 1417.8,484.3 1418,486 1418.9,482.8 1420,481 1420,481 1421.1,480.8 1422.2,481.5 1423,483 1423.4,484.2 1424.5,483.1 1425.6,480.4 1426.7,478.3 1427,479 1427.8,483.1 1428.9,484.8 1429,485 1430.1,485.4 1431.2,485.5 1432.3,485 1433,483 1433.4,484.6 1434.5,483.2 1435.6,482.4 1436.8,483.5 1437.9,482 1438,483.6 1439,485.7 1440.1,489 1441.2,491.3 1442,492 1442.3,490.9 1443.5,490.3 1444.6,492.3 1445.7,490.2 1446,490 1446.8,488.7 1447.9,489.2 1449,489.7 1450.2,487.4 1451,488 1451.3,489.5 1452.4,491.7 1453.5,494.6 1454,494 1454.6,492.4 1455.7,493.2 1456.9,492.7 1458,491.6 1458,490 1459.1,487.9 1460.2,489.9 1461.3,486.7 1462,488 1462.4,489.2 1463.6,487.2 1464.7,490.3 1465.8,488.9 1466,490 1466.9,488.1 1468,488 1468,486.4 1469.1,487.6 1470.2,489.2 1471,489.6" fill="none" stroke="#000" stroke-width="3" stroke-linejoin="round"/>
<text x="6.4" y="771.4" font-size="44" transform="translate(6.4,0) scale(0.93,1) translate(-6.4,0)" font-weight="bold" fill="#000">C</text>
<line x1="209.6" y1="810.2" x2="937" y2="810.2" stroke="#bdbdbd" stroke-width="2" stroke-dasharray="2 4.43"/>
<line x1="209.6" y1="829.9" x2="937" y2="829.9" stroke="#bdbdbd" stroke-width="2" stroke-dasharray="2 4.43"/>
<line x1="209.6" y1="849.6" x2="937" y2="849.6" stroke="#bdbdbd" stroke-width="2" stroke-dasharray="2 4.43"/>
<line x1="209.6" y1="869.3" x2="937" y2="869.3" stroke="#bdbdbd" stroke-width="2" stroke-dasharray="2 4.43"/>
<line x1="209.6" y1="889.1" x2="937" y2="889.1" stroke="#bdbdbd" stroke-width="2" stroke-dasharray="2 4.43"/>
<line x1="209.6" y1="908.8" x2="937" y2="908.8" stroke="#bdbdbd" stroke-width="2" stroke-dasharray="2 4.43"/>
<line x1="209.6" y1="928.5" x2="937" y2="928.5" stroke="#bdbdbd" stroke-width="2" stroke-dasharray="2 4.43"/>
<line x1="209.6" y1="948.2" x2="937" y2="948.2" stroke="#bdbdbd" stroke-width="2" stroke-dasharray="2 4.43"/>
<line x1="209.6" y1="967.9" x2="937" y2="967.9" stroke="#bdbdbd" stroke-width="2" stroke-dasharray="2 4.43"/>
<line x1="209.6" y1="987.6" x2="937" y2="987.6" stroke="#bdbdbd" stroke-width="2" stroke-dasharray="2 4.43"/>
<line x1="209.6" y1="1007.3" x2="937" y2="1007.3" stroke="#bdbdbd" stroke-width="2" stroke-dasharray="2 4.43"/>
<line x1="209.6" y1="1027.1" x2="937" y2="1027.1" stroke="#bdbdbd" stroke-width="2" stroke-dasharray="2 4.43"/>
<line x1="209.6" y1="1046.8" x2="937" y2="1046.8" stroke="#bdbdbd" stroke-width="2" stroke-dasharray="2 4.43"/>
<line x1="209.6" y1="1066.5" x2="937" y2="1066.5" stroke="#bdbdbd" stroke-width="2" stroke-dasharray="2 4.43"/>
<line x1="209.6" y1="1086.2" x2="937" y2="1086.2" stroke="#bdbdbd" stroke-width="2" stroke-dasharray="2 4.43"/>
<line x1="209.6" y1="1105.9" x2="937" y2="1105.9" stroke="#bdbdbd" stroke-width="2" stroke-dasharray="2 4.43"/>
<line x1="209.6" y1="1125.6" x2="937" y2="1125.6" stroke="#bdbdbd" stroke-width="2" stroke-dasharray="2 4.43"/>
<line x1="209.6" y1="1145.3" x2="937" y2="1145.3" stroke="#bdbdbd" stroke-width="2" stroke-dasharray="2 4.43"/>
<line x1="209.6" y1="1165.1" x2="937" y2="1165.1" stroke="#bdbdbd" stroke-width="2" stroke-dasharray="2 4.43"/>
<line x1="209.6" y1="1184.8" x2="937" y2="1184.8" stroke="#bdbdbd" stroke-width="2" stroke-dasharray="2 4.43"/>
<line x1="209.6" y1="1204.5" x2="937" y2="1204.5" stroke="#bdbdbd" stroke-width="2" stroke-dasharray="2 4.43"/>
<line x1="209.6" y1="1224.2" x2="937" y2="1224.2" stroke="#bdbdbd" stroke-width="2" stroke-dasharray="2 4.43"/>
<line x1="209.6" y1="1243.9" x2="937" y2="1243.9" stroke="#bdbdbd" stroke-width="2" stroke-dasharray="2 4.43"/>
<line x1="209.6" y1="1263.6" x2="937" y2="1263.6" stroke="#bdbdbd" stroke-width="2" stroke-dasharray="2 4.43"/>
<line x1="209.6" y1="1283.3" x2="937" y2="1283.3" stroke="#bdbdbd" stroke-width="2" stroke-dasharray="2 4.43"/>
<line x1="209.6" y1="1303" x2="937" y2="1303" stroke="#bdbdbd" stroke-width="2" stroke-dasharray="2 4.43"/>
<line x1="209.6" y1="1322.8" x2="937" y2="1322.8" stroke="#bdbdbd" stroke-width="2" stroke-dasharray="2 4.43"/>
<line x1="209.6" y1="1342.5" x2="937" y2="1342.5" stroke="#bdbdbd" stroke-width="2" stroke-dasharray="2 4.43"/>
<line x1="209.6" y1="1362.2" x2="937" y2="1362.2" stroke="#bdbdbd" stroke-width="2" stroke-dasharray="2 4.43"/>
<line x1="209.6" y1="1381.9" x2="937" y2="1381.9" stroke="#bdbdbd" stroke-width="2" stroke-dasharray="2 4.43"/>
<circle cx="913.1" cy="810.2" r="5.6" fill="none" stroke="#333" stroke-width="1.8"/>
<circle cx="895.1" cy="829.9" r="5.6" fill="none" stroke="#333" stroke-width="1.8"/>
<circle cx="816.7" cy="849.6" r="5.6" fill="none" stroke="#333" stroke-width="1.8"/>
<circle cx="738.3" cy="869.3" r="5.6" fill="none" stroke="#333" stroke-width="1.8"/>
<circle cx="553" cy="889.1" r="5.6" fill="none" stroke="#333" stroke-width="1.8"/>
<circle cx="520.1" cy="908.8" r="5.6" fill="none" stroke="#333" stroke-width="1.8"/>
<circle cx="505.5" cy="928.5" r="5.6" fill="none" stroke="#333" stroke-width="1.8"/>
<circle cx="498.2" cy="948.2" r="5.6" fill="none" stroke="#333" stroke-width="1.8"/>
<circle cx="498.2" cy="967.9" r="5.6" fill="none" stroke="#333" stroke-width="1.8"/>
<circle cx="462.2" cy="987.6" r="5.6" fill="none" stroke="#333" stroke-width="1.8"/>
<circle cx="446.6" cy="1007.3" r="5.6" fill="none" stroke="#333" stroke-width="1.8"/>
<circle cx="434.8" cy="1027.1" r="5.6" fill="none" stroke="#333" stroke-width="1.8"/>
<circle cx="432.9" cy="1046.8" r="5.6" fill="none" stroke="#333" stroke-width="1.8"/>
<circle cx="422.5" cy="1066.5" r="5.6" fill="none" stroke="#333" stroke-width="1.8"/>
<circle cx="409" cy="1086.2" r="5.6" fill="none" stroke="#333" stroke-width="1.8"/>
<circle cx="403.2" cy="1105.9" r="5.6" fill="none" stroke="#333" stroke-width="1.8"/>
<circle cx="391.4" cy="1125.6" r="5.6" fill="none" stroke="#333" stroke-width="1.8"/>
<circle cx="390" cy="1145.3" r="5.6" fill="none" stroke="#333" stroke-width="1.8"/>
<circle cx="387.1" cy="1165.1" r="5.6" fill="none" stroke="#333" stroke-width="1.8"/>
<circle cx="386.5" cy="1184.8" r="5.6" fill="none" stroke="#333" stroke-width="1.8"/>
<circle cx="385.2" cy="1204.5" r="5.6" fill="none" stroke="#333" stroke-width="1.8"/>
<circle cx="384.9" cy="1224.2" r="5.6" fill="none" stroke="#333" stroke-width="1.8"/>
<circle cx="381.3" cy="1243.9" r="5.6" fill="none" stroke="#333" stroke-width="1.8"/>
<circle cx="377.9" cy="1263.6" r="5.6" fill="none" stroke="#333" stroke-width="1.8"/>
<circle cx="375.7" cy="1283.3" r="5.6" fill="none" stroke="#333" stroke-width="1.8"/>
<circle cx="374.5" cy="1303" r="5.6" fill="none" stroke="#333" stroke-width="1.8"/>
<circle cx="372.9" cy="1322.8" r="5.6" fill="none" stroke="#333" stroke-width="1.8"/>
<circle cx="372.8" cy="1342.5" r="5.6" fill="none" stroke="#333" stroke-width="1.8"/>
<circle cx="372" cy="1362.2" r="5.6" fill="none" stroke="#333" stroke-width="1.8"/>
<circle cx="370.5" cy="1381.9" r="5.6" fill="none" stroke="#333" stroke-width="1.8"/>
<rect x="203.5" y="790" width="736.5" height="611" fill="none" stroke="#111" stroke-width="2"/>
<text x="63.7" y="816" font-size="21.3" fill="#111" stroke="#111" stroke-width="0.15" textLength="82.43" lengthAdjust="spacingAndGlyphs">post-PLT</text>
<text x="63.6" y="835.6" font-size="21.3" fill="#111" stroke="#111" stroke-width="0.15" textLength="105.86" lengthAdjust="spacingAndGlyphs">auto blood</text>
<text x="63.7" y="855.2" font-size="21.3" fill="#111" stroke="#111" stroke-width="0.15" textLength="85.60" lengthAdjust="spacingAndGlyphs">post-AST</text>
<text x="63.7" y="874.9" font-size="21.3" fill="#111" stroke="#111" stroke-width="0.15" textLength="97.42" lengthAdjust="spacingAndGlyphs">post-WBC</text>
<text x="63.8" y="894.5" font-size="21.3" fill="#111" stroke="#111" stroke-width="0.15" textLength="38.45" lengthAdjust="spacingAndGlyphs">CPB</text>
<text x="63.7" y="914.1" font-size="21.3" fill="#111" stroke="#111" stroke-width="0.15" textLength="73.22" lengthAdjust="spacingAndGlyphs">post-PT</text>
<text x="64.7" y="933.7" font-size="21.3" fill="#111" stroke="#111" stroke-width="0.15" textLength="115.11" lengthAdjust="spacingAndGlyphs">total output</text>
<text x="63.6" y="953.3" font-size="21.3" fill="#111" stroke="#111" stroke-width="0.15" textLength="128.25" lengthAdjust="spacingAndGlyphs">post-globulin</text>
<text x="64.7" y="973" font-size="21.3" fill="#111" stroke="#111" stroke-width="0.15" textLength="100.39" lengthAdjust="spacingAndGlyphs">total input</text>
<text x="63.7" y="992.6" font-size="21.3" fill="#111" stroke="#111" stroke-width="0.15" textLength="84.19" lengthAdjust="spacingAndGlyphs">post-INR</text>
<text x="63.7" y="1012.2" font-size="21.3" fill="#111" stroke="#111" stroke-width="0.15" textLength="62.86" lengthAdjust="spacingAndGlyphs">pre-PT</text>
<text x="63.7" y="1031.8" font-size="21.3" fill="#111" stroke="#111" stroke-width="0.15" textLength="92.66" lengthAdjust="spacingAndGlyphs">min SaO2</text>
<text x="63.7" y="1051.4" font-size="21.3" fill="#111" stroke="#111" stroke-width="0.15" textLength="70.18" lengthAdjust="spacingAndGlyphs">post-Cr</text>
<text x="63.7" y="1071.1" font-size="21.3" fill="#111" stroke="#111" stroke-width="0.15" textLength="75.28" lengthAdjust="spacingAndGlyphs">pre-INR</text>
<text x="63.7" y="1090.7" font-size="21.3" fill="#111" stroke="#111" stroke-width="0.15" textLength="73.12" lengthAdjust="spacingAndGlyphs">post-TP</text>
<text x="63.7" y="1110.3" font-size="21.3" fill="#111" stroke="#111" stroke-width="0.15" textLength="87.52" lengthAdjust="spacingAndGlyphs">post-ALB</text>
<text x="63.7" y="1129.9" font-size="21.3" fill="#111" stroke="#111" stroke-width="0.15" textLength="79.13" lengthAdjust="spacingAndGlyphs">pre-RBC</text>
<text x="63.7" y="1149.5" font-size="21.3" fill="#111" stroke="#111" stroke-width="0.15" textLength="94.20" lengthAdjust="spacingAndGlyphs">post-LVEF</text>
<text x="64.7" y="1169.2" font-size="21.3" fill="#111" stroke="#111" stroke-width="0.15" textLength="84.19" lengthAdjust="spacingAndGlyphs">total FFP</text>
<text x="63.7" y="1188.8" font-size="21.3" fill="#111" stroke="#111" stroke-width="0.15" textLength="83.76" lengthAdjust="spacingAndGlyphs">post-ALT</text>
<text x="63.7" y="1208.4" font-size="21.3" fill="#111" stroke="#111" stroke-width="0.15" textLength="84.05" lengthAdjust="spacingAndGlyphs">pre-LVEF</text>
<text x="63.7" y="1228" font-size="21.3" fill="#111" stroke="#111" stroke-width="0.15" textLength="77.36" lengthAdjust="spacingAndGlyphs">pre-ALB</text>
<text x="63.7" y="1247.6" font-size="21.3" fill="#111" stroke="#111" stroke-width="0.15" textLength="71.26" lengthAdjust="spacingAndGlyphs">pre-PLT</text>
<text x="63.6" y="1267.3" font-size="21.3" fill="#111" stroke="#111" stroke-width="0.15" textLength="72.40" lengthAdjust="spacingAndGlyphs">pre-Hct</text>
<text x="63.7" y="1286.9" font-size="21.3" fill="#111" stroke="#111" stroke-width="0.15" textLength="120.76" lengthAdjust="spacingAndGlyphs">hospital stay</text>
<text x="64.7" y="1306.5" font-size="21.3" fill="#111" stroke="#111" stroke-width="0.15" textLength="56.60" lengthAdjust="spacingAndGlyphs">weigh</text>
<text x="63.6" y="1326.1" font-size="21.3" fill="#111" stroke="#111" stroke-width="0.15" textLength="82.55" lengthAdjust="spacingAndGlyphs">post-Hct</text>
<text x="64.7" y="1345.7" font-size="21.3" fill="#111" stroke="#111" stroke-width="0.15" textLength="88.14" lengthAdjust="spacingAndGlyphs">ACC time</text>
<text x="63.7" y="1365.4" font-size="21.3" fill="#111" stroke="#111" stroke-width="0.15" textLength="88.19" lengthAdjust="spacingAndGlyphs">pre-WBC</text>
<text x="64.7" y="1385" font-size="21.3" fill="#111" stroke="#111" stroke-width="0.15" textLength="36.63" lengthAdjust="spacingAndGlyphs">ASA</text>
<line x1="231.2" y1="1401" x2="231.2" y2="1416.8" stroke="#111" stroke-width="2"/>
<text x="231.2" y="1457.5" font-size="24" fill="#111" text-anchor="middle">0</text>
<line x1="368.1" y1="1401" x2="368.1" y2="1416.8" stroke="#111" stroke-width="2"/>
<text x="368.1" y="1457.5" font-size="24" fill="#111" text-anchor="middle">5</text>
<line x1="504.9" y1="1401" x2="504.9" y2="1416.8" stroke="#111" stroke-width="2"/>
<text x="504.9" y="1457.5" font-size="24" fill="#111" text-anchor="middle">10</text>
<line x1="641.8" y1="1401" x2="641.8" y2="1416.8" stroke="#111" stroke-width="2"/>
<text x="641.8" y="1457.5" font-size="24" fill="#111" text-anchor="middle">15</text>
<line x1="778.6" y1="1401" x2="778.6" y2="1416.8" stroke="#111" stroke-width="2"/>
<text x="778.6" y="1457.5" font-size="24" fill="#111" text-anchor="middle">20</text>
<line x1="915.5" y1="1401" x2="915.5" y2="1416.8" stroke="#111" stroke-width="2"/>
<text x="915.5" y="1457.5" font-size="24" fill="#111" text-anchor="middle">25</text>
<text x="572" y="1519.3" font-size="26" fill="#111" text-anchor="middle">MeanDecreaseGini</text>
</svg>
</body></html>
